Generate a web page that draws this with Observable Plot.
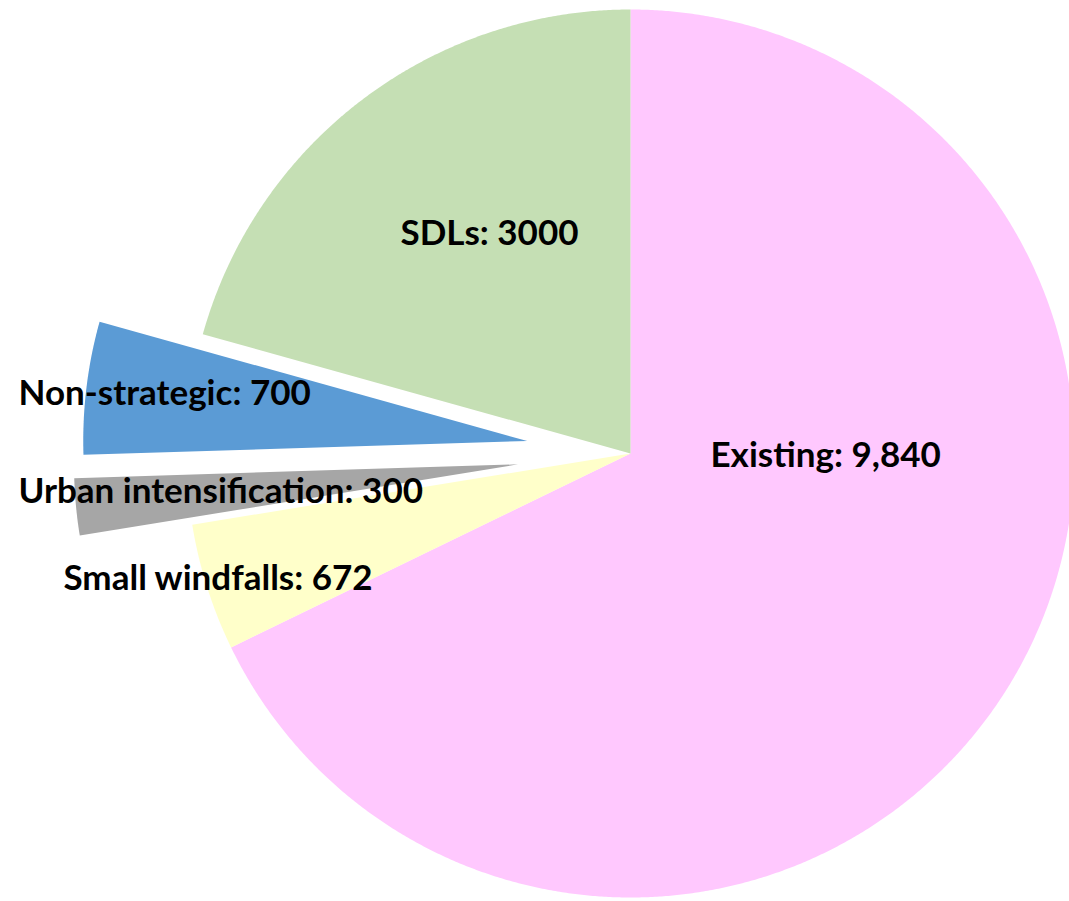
<!DOCTYPE html>
<html>
<head>
<meta charset="utf-8">
<script src="https://cdn.jsdelivr.net/npm/d3@7"></script>
<script src="https://cdn.jsdelivr.net/npm/@observablehq/plot@0.6"></script>
<style>
  html, body { margin: 0; padding: 0; background: #ffffff; }
  #chart svg { display: block; }
</style>
</head>
<body>
<div id="chart"></div>
<script>
// ---- data ----
const categories = ["Existing", "Small windfalls", "Urban intensification", "Non-strategic", "SDLs"];
const values = [9840, 672, 300, 700, 3000];
const labels = ["Existing: 9,840", "Small windfalls: 672", "Urban intensification: 300", "Non-strategic: 700", "SDLs: 3000"];
const colors = ["#FFC8FE", "#FFFFCA", "#A6A6A6", "#5B9BD5", "#C5DFB4"];

// ---- layout (pixel-like units relative to pie centre, y up) ----
const W = 1069, H = 901;
const cx = 630, cy = 453, R = 444;
const explode = {"Urban intensification": 113, "Non-strategic": 104};
const labelAt = {
  "Existing": [80, -2],
  "Small windfalls": [-567, -125],
  "Urban intensification": [-612, -38],
  "Non-strategic": [-612, 60],
  "SDLs": [-230, 220]
};

const arcs = d3.pie().sort(null).value(d => d)(values);
const pts = [];
arcs.forEach((a, i) => {
  const cat = categories[i];
  const mid = (a.startAngle + a.endAngle) / 2;
  const d = explode[cat] || 0;
  const ox = d * Math.sin(mid), oy = d * Math.cos(mid);
  pts.push({cat, x: ox, y: oy});
  const n = Math.max(8, Math.ceil((a.endAngle - a.startAngle) / 0.005));
  for (let k = 0; k <= n; k++) {
    const t = a.startAngle + (a.endAngle - a.startAngle) * k / n;
    pts.push({cat, x: ox + R * Math.sin(t), y: oy + R * Math.cos(t)});
  }
  pts.push({cat, x: ox, y: oy});
});

const labelData = categories.map((c, i) => ({cat: c, text: labels[i], x: labelAt[c][0], y: labelAt[c][1]}));

const chart = Plot.plot({
  width: W,
  height: H,
  margin: 0,
  style: {background: "#ffffff", fontFamily: "Lato, sans-serif"},
  x: {domain: [-cx, W - cx], range: [0, W], axis: null},
  y: {domain: [-(H - cy), cy], range: [H, 0], axis: null},
  color: {domain: categories, range: colors, type: "ordinal"},
  marks: [
    Plot.line(pts, {x: "x", y: "y", z: "cat", fill: "cat", stroke: null, curve: "linear"}),
    Plot.text(labelData, {x: "x", y: "y", text: "text", textAnchor: "start", fill: "#000000", fontSize: 35, fontWeight: "bold", fontFamily: "Lato"})
  ]
});
document.getElementById("chart").appendChild(chart);
</script>
</body>
</html>
